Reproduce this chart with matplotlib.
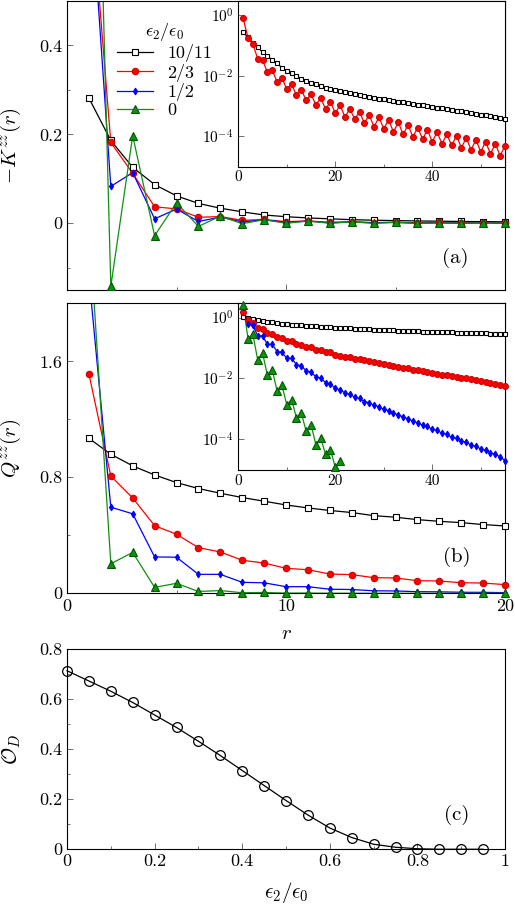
import numpy as np
import matplotlib.pyplot as plt
from matplotlib.lines import Line2D
from matplotlib.ticker import MultipleLocator, FixedLocator, FuncFormatter, NullLocator

plt.rcParams['font.family'] = 'serif'
plt.rcParams['font.serif'] = ['cmr10']
plt.rcParams['mathtext.fontset'] = 'cm'
plt.rcParams['axes.formatter.use_mathtext'] = True
plt.rcParams['axes.linewidth'] = 0.8

# distances
r_all = list(range(1, 56))
r_main = list(range(1, 21))

# panel (a) inset: log10(-K^zz) for 10/11 and 2/3
ka_black_log = [-0.55, -0.73, -0.90, -1.06, -1.21, -1.35, -1.47, -1.59, -1.73, -1.83,
                -1.92, -2.00, -2.09, -2.16, -2.22, -2.28, -2.33, -2.39, -2.43, -2.48,
                -2.51, -2.54, -2.58, -2.60, -2.63, -2.66, -2.69, -2.72, -2.75, -2.77,
                -2.80, -2.83, -2.85, -2.88, -2.90, -2.93, -2.95, -2.98, -3.00, -3.02,
                -3.05, -3.07, -3.10, -3.12, -3.15, -3.17, -3.20, -3.22, -3.25, -3.28,
                -3.31, -3.34, -3.36, -3.39, -3.42]
ka_red_log = [-0.10, -0.74, -0.95, -1.43, -1.49, -1.87, -1.82, -2.19, -2.07, -2.44,
              -2.28, -2.64, -2.46, -2.81, -2.61, -2.96, -2.74, -3.10, -2.86, -3.23,
              -2.97, -3.36, -3.09, -3.43, -3.19, -3.56, -3.29, -3.69, -3.37, -3.75,
              -3.45, -3.86, -3.54, -3.94, -3.62, -4.02, -3.71, -4.09, -3.79, -4.18,
              -3.86, -4.25, -3.93, -4.30, -3.98, -4.38, -4.05, -4.45, -4.12, -4.51,
              -4.18, -4.58, -4.25, -4.64, -4.31]
# panel (a) main, 1/2 and 0
ka_blue = [0.80, 0.083, 0.114, 0.010, 0.032, 0.004, 0.014, 0.003, 0.008, 0.002,
           0.005, 0.001, 0.003, 0.001, 0.002, 0.000, 0.001, 0.000, 0.001, 0.000]
ka_green = [1.70, -0.142, 0.197, -0.028, 0.046, -0.007, 0.016, -0.001, 0.008, 0.000,
            0.005, 0.000, 0.003, 0.000, 0.002, 0.000, 0.001, 0.000, 0.001, 0.000]

# panel (b): log10(Q^zz)
qb_black_log = [0.029, -0.018, -0.056, -0.088, -0.117, -0.141, -0.161, -0.180, -0.197, -0.215,
                -0.230, -0.243, -0.254, -0.271, -0.280, -0.294, -0.304, -0.312, -0.324, -0.333,
                -0.34, -0.35, -0.36, -0.365, -0.375, -0.38, -0.39, -0.395, -0.40, -0.41,
                -0.415, -0.42, -0.43, -0.435, -0.44, -0.445, -0.45, -0.46, -0.465, -0.47,
                -0.475, -0.48, -0.485, -0.49, -0.495, -0.50, -0.505, -0.51, -0.515, -0.52,
                -0.525, -0.53, -0.535, -0.54, -0.55]
qb_red_log = [0.18, -0.092, -0.182, -0.331, -0.390, -0.502, -0.545, -0.642, -0.680, -0.764,
              -0.788, -0.876, -0.889, -0.967, -0.975, -1.060, -1.070, -1.137, -1.149, -1.222,
              -1.25, -1.29, -1.31, -1.35, -1.37, -1.41, -1.43, -1.47, -1.49, -1.53,
              -1.55, -1.59, -1.61, -1.65, -1.67, -1.71, -1.73, -1.77, -1.79, -1.83,
              -1.85, -1.88, -1.90, -1.93, -1.95, -1.98, -2.00, -2.03, -2.05, -2.09,
              -2.11, -2.15, -2.17, -2.22, -2.25]
qb_blue_log = [0.34, -0.226, -0.261, -0.600, -0.604, -0.883, -0.883, -1.12, -1.14, -1.34,
               -1.34, -1.55, -1.58, -1.76, -1.79, -1.95, -1.99, -2.14, -2.18, -2.33,
               -2.37, -2.48, -2.52, -2.62, -2.66, -2.76, -2.80, -2.89, -2.93, -3.02,
               -3.06, -3.15, -3.19, -3.28, -3.32, -3.41, -3.45, -3.54, -3.58, -3.67,
               -3.71, -3.80, -3.84, -3.93, -3.97, -4.06, -4.10, -4.19, -4.23, -4.32,
               -4.36, -4.45, -4.49, -4.58, -4.70]
qb_green_log = [0.41, -0.69, -0.55, -1.39, -1.16, -1.90, -1.72, -2.41, -2.23, -2.87,
                -2.70, -3.30, -3.14, -3.74, -3.52, -4.18, -3.96, -4.50, -4.34, -4.92,
                -4.70]

# panel (c)
eps_ratio = [0.0, 0.05, 0.1, 0.15, 0.2, 0.25, 0.3, 0.35, 0.4, 0.45,
             0.5, 0.55, 0.6, 0.65, 0.7, 0.75, 0.8, 0.85, 0.9, 0.95]
order_d = [0.714, 0.673, 0.632, 0.587, 0.537, 0.487, 0.432, 0.375, 0.315, 0.255,
           0.195, 0.137, 0.085, 0.047, 0.020, 0.008, 0.002, 0.0, 0.0, 0.0]

legend_labels = ['10/11', '2/3', '1/2', '0']

GREEN = '#109010'
styles = {
    'black': dict(color='black', marker='s', mfc='white', mec='black'),
    'red': dict(color='red', marker='o', mfc='red', mec='#d00000'),
    'blue': dict(color='blue', marker='d', mfc='blue', mec='blue'),
    'green': dict(color=GREEN, marker='^', mfc=GREEN, mec='#005a00'),
}
sizes_main = {'black': 4.0, 'red': 4.6, 'blue': 3.4, 'green': 5.6}
sizes_ins = {'black': 3.4, 'red': 4.2, 'blue': 3.4, 'green': 5.2}

TICK_FS = 13
LABEL_FS = 15


def curve(ax, x, y, key, ms, ylim):
    st = styles[key]
    x = np.asarray(x, float)
    y = np.asarray(y, float)
    ax.plot(x, y, '-', color=st['color'], lw=0.9, zorder=2)
    keep = (y >= ylim[0]) & (y <= ylim[1])
    ax.plot(x[keep], y[keep], ls='none', marker=st['marker'], ms=ms,
            mfc=st['mfc'], mec=st['mec'], mew=0.8, clip_on=False, zorder=3)


def style_ticks(ax, size=TICK_FS):
    ax.tick_params(which='both', direction='in', color='0.35', width=0.6,
                   labelsize=size, top=False, right=False)
    ax.tick_params(which='major', length=4)
    ax.tick_params(which='minor', length=2.5)


def num(v, pos):
    return '%g' % round(v, 3)


def pow10(v, pos):
    return r'$10^{%d}$' % int(round(np.log10(v)))


fig = plt.figure(figsize=(5.15, 9.05), dpi=100)
ax_a = fig.add_axes([0.1301, 0.6796, 0.8505, 0.3193])
ax_b = fig.add_axes([0.1301, 0.3444, 0.8505, 0.3204])
ax_c = fig.add_axes([0.1301, 0.0616, 0.8505, 0.2210])
in_a = fig.add_axes([0.4627, 0.8160, 0.5179, 0.1829], zorder=5)
in_b = fig.add_axes([0.4627, 0.4810, 0.5179, 0.1842], zorder=5)

# ---- panel (a)
ylim_a = (-0.15, 0.5)
curve(ax_a, r_main, 10 ** np.array(ka_black_log[:20]), 'black', sizes_main['black'], ylim_a)
curve(ax_a, r_main, 10 ** np.array(ka_red_log[:20]), 'red', sizes_main['red'], ylim_a)
curve(ax_a, r_main, ka_blue, 'blue', sizes_main['blue'], ylim_a)
curve(ax_a, r_main, ka_green, 'green', sizes_main['green'], ylim_a)
ax_a.set_xlim(0, 20)
ax_a.set_ylim(*ylim_a)
ax_a.xaxis.set_major_locator(MultipleLocator(10))
ax_a.xaxis.set_minor_locator(MultipleLocator(5))
ax_a.set_xticklabels([])
ax_a.yaxis.set_major_locator(FixedLocator([0, 0.2, 0.4]))
ax_a.yaxis.set_minor_locator(FixedLocator([-0.1, 0.1, 0.3]))
ax_a.yaxis.set_major_formatter(FuncFormatter(num))
style_ticks(ax_a)
ax_a.set_ylabel(r'$-K^{zz}(r)$', fontsize=LABEL_FS)
ax_a.yaxis.set_label_coords(-0.1, 0.5)
ax_a.text(0.886, 0.111, '(a)', transform=ax_a.transAxes, fontsize=15,
          ha='center', va='center')

handles = [Line2D([], [], color=styles[k]['color'], lw=0.9, marker=styles[k]['marker'],
                  ms=sizes_main[k], mfc=styles[k]['mfc'], mec=styles[k]['mec'], mew=0.8)
           for k in ['black', 'red', 'blue', 'green']]
leg = ax_a.legend(handles, legend_labels, title=r'$\epsilon_2/\epsilon_0$',
                  loc='upper left', bbox_to_anchor=(0.085, 0.975), frameon=False,
                  fontsize=13, title_fontsize=13, handlelength=2.0, labelspacing=0.08,
                  handletextpad=0.8, borderpad=0.2)

# inset (a)
ylim_in = (1e-5, 3)
curve(in_a, r_all, 10 ** np.array(ka_black_log), 'black', sizes_ins['black'], ylim_in)
curve(in_a, r_all, 10 ** np.array(ka_red_log), 'red', sizes_ins['red'], ylim_in)

# ---- panel (b)
ylim_b = (0, 2)
for key, arr in [('black', qb_black_log), ('red', qb_red_log),
                 ('blue', qb_blue_log), ('green', qb_green_log)]:
    curve(ax_b, r_main, 10 ** np.array(arr[:20]), key, sizes_main[key], ylim_b)
    curve(in_b, r_all[:len(arr)], 10 ** np.array(arr), key, sizes_ins[key], ylim_in)
ax_b.set_xlim(0, 20)
ax_b.set_ylim(*ylim_b)
ax_b.xaxis.set_major_locator(MultipleLocator(10))
ax_b.xaxis.set_minor_locator(MultipleLocator(5))
ax_b.yaxis.set_major_locator(FixedLocator([0, 0.8, 1.6]))
ax_b.yaxis.set_minor_locator(FixedLocator([0.4, 1.2]))
ax_b.yaxis.set_major_formatter(FuncFormatter(num))
ax_b.xaxis.set_major_formatter(FuncFormatter(num))
style_ticks(ax_b)
ax_b.set_ylabel(r'$Q^{zz}(r)$', fontsize=LABEL_FS)
ax_b.yaxis.set_label_coords(-0.1, 0.5)
ax_b.set_xlabel(r'$r$', fontsize=LABEL_FS)
ax_b.xaxis.set_label_coords(0.5, -0.11)
ax_b.text(0.890, 0.125, '(b)', transform=ax_b.transAxes, fontsize=15,
          ha='center', va='center')

for ins in (in_a, in_b):
    ins.set_yscale('log')
    ins.set_xlim(0, 55)
    ins.set_ylim(*ylim_in)
    ins.xaxis.set_major_locator(FixedLocator([0, 20, 40]))
    ins.xaxis.set_minor_locator(FixedLocator([10, 30, 50]))
    ins.xaxis.set_major_formatter(FuncFormatter(num))
    ins.yaxis.set_major_locator(FixedLocator([1e0, 1e-2, 1e-4]))
    ins.yaxis.set_minor_locator(NullLocator())
    ins.yaxis.set_major_formatter(FuncFormatter(pow10))
    ins.set_facecolor('white')
    style_ticks(ins, size=11)
    ins.tick_params(axis='x', pad=3)

# ---- panel (c)
ax_c.plot(eps_ratio, order_d, '-', color='black', lw=0.9, marker='o', ms=7,
          mfc='none', mec='black', mew=0.9, clip_on=False)
ax_c.set_xlim(0, 1)
ax_c.set_ylim(0, 0.8)
ax_c.xaxis.set_major_locator(MultipleLocator(0.2))
ax_c.xaxis.set_minor_locator(MultipleLocator(0.1))
ax_c.yaxis.set_major_locator(MultipleLocator(0.2))
ax_c.yaxis.set_minor_locator(MultipleLocator(0.1))
ax_c.xaxis.set_major_formatter(FuncFormatter(num))
ax_c.yaxis.set_major_formatter(FuncFormatter(num))
style_ticks(ax_c)
ax_c.set_ylabel(r'$\mathcal{O}_D$', fontsize=LABEL_FS)
ax_c.yaxis.set_label_coords(-0.1, 0.5)
ax_c.set_xlabel(r'$\epsilon_2/\epsilon_0$', fontsize=LABEL_FS)
ax_c.xaxis.set_label_coords(0.5, -0.155)
ax_c.text(0.890, 0.17, '(c)', transform=ax_c.transAxes, fontsize=15,
          ha='center', va='center')

fig.savefig('out.png', dpi=100)
